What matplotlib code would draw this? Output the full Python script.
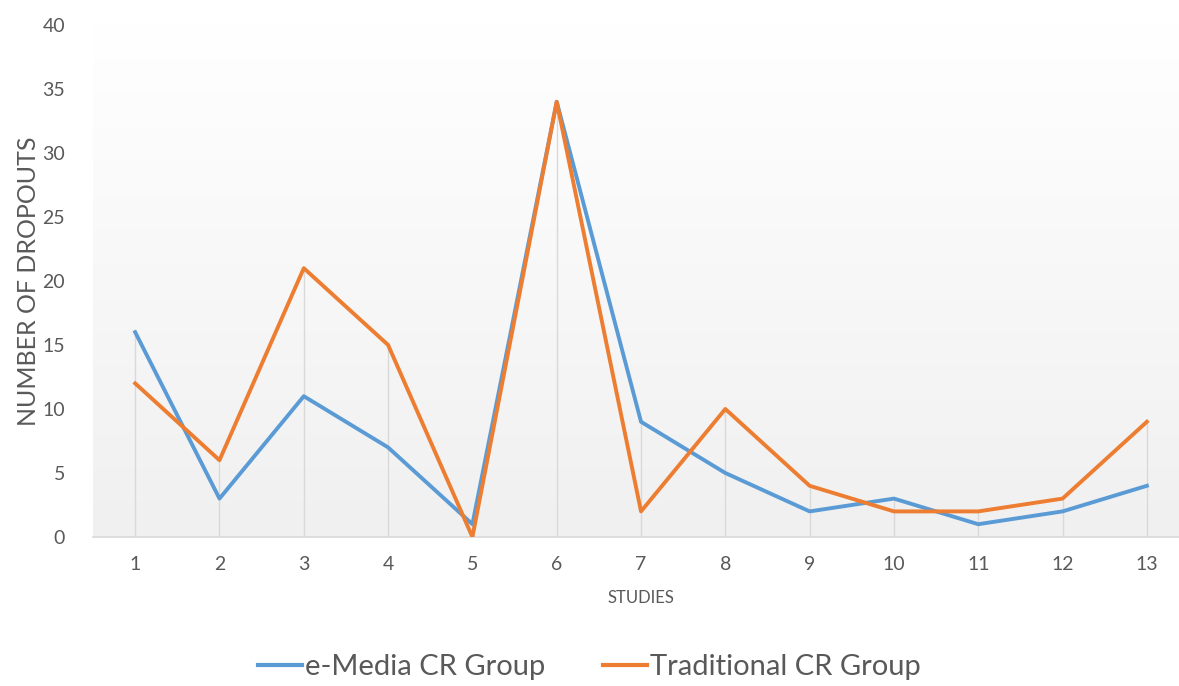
import numpy as np
import matplotlib
matplotlib.use("Agg")
import matplotlib.pyplot as plt
from matplotlib.lines import Line2D

plt.rcParams['font.family'] = ['Lato', 'DejaVu Sans']

studies = list(range(1, 14))
emedia = [16, 3, 11, 7, 1, 34, 9, 5, 2, 3, 1, 2, 4]
traditional = [12, 6, 21, 15, 0, 34, 2, 10, 4, 2, 2, 3, 9]
y_ticks = [0, 5, 10, 15, 20, 25, 30, 35, 40]

BLUE = '#5b9bd5'
ORANGE = '#ed7d31'
TEXT = '#595959'

fig = plt.figure(figsize=(11.79, 6.86), dpi=100)
ax = fig.add_axes([0.0789, 0.2172, 0.9296, 0.7464])

# soft vertical gradient in the plot area
grad = np.linspace(0, 1, 256).reshape(-1, 1)
cmap = matplotlib.colors.LinearSegmentedColormap.from_list('bg', ['#f0f0f0', '#ffffff'])
ax.imshow(grad, extent=[0.5, 13.5, 0, 40], origin='lower', aspect='auto',
          cmap=cmap, zorder=0)

# drop lines from the higher value down to the axis
tops = [max(a, b) for a, b in zip(emedia, traditional)]
ax.vlines(studies, 0, tops, colors='#d9d9d9', linewidth=1, zorder=1)

ax.plot(studies, emedia, color=BLUE, linewidth=2.8, zorder=3, label='e-Media CR Group')
ax.plot(studies, traditional, color=ORANGE, linewidth=2.8, zorder=4, label='Traditional CR Group')

ax.set_xlim(0.5, 13.5)
ax.set_ylim(0, 40)
ax.set_xticks(studies)
ax.set_yticks(y_ticks)
for s in ['top', 'right', 'left']:
    ax.spines[s].set_visible(False)
ax.spines['bottom'].set_color('#d9d9d9')
ax.spines['bottom'].set_linewidth(1.2)
ax.tick_params(axis='both', length=0, labelsize=14, labelcolor=TEXT)
ax.tick_params(axis='y', pad=20)
ax.tick_params(axis='x', pad=14)

ax.set_ylabel('NUMBER OF DROPOUTS', fontsize=18, color=TEXT, labelpad=2)
ax.set_xlabel('STUDIES', fontsize=12, color=TEXT, labelpad=12)

handles = [Line2D([], [], color=BLUE, linewidth=3),
           Line2D([], [], color=ORANGE, linewidth=3)]
fig.legend(handles, ['e-Media CR Group', 'Traditional CR Group'],
           loc='center', bbox_to_anchor=(0.5, 0.028), ncol=2, frameon=False,
           fontsize=21, labelcolor=TEXT, handlelength=1.5, handletextpad=0.1,
           columnspacing=2.0)

fig.savefig('out.png', dpi=100)
